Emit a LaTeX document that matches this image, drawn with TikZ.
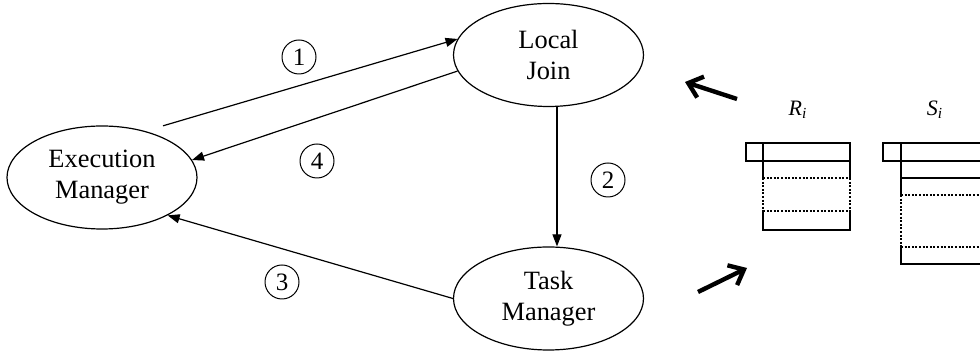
\documentclass[tikz,border=0pt]{standalone}
\usepackage{fontspec}
\setmainfont{Liberation Serif}
\usetikzlibrary{arrows.meta,shapes.geometric}
\begin{document}
\begin{tikzpicture}[x=0.5pt,y=-0.5pt,
  proc/.style={ellipse,draw,line width=0.6pt,minimum width=95pt,minimum height=51.5pt,inner sep=0pt,align=center,font=\fontsize{13.2}{15.5}\selectfont},
  num/.style={circle,draw,line width=0.5pt,minimum size=17pt,inner sep=0pt,font=\fontsize{12.5}{14}\selectfont},
  arr/.style={line width=0.6pt,-{Triangle[length=6pt,width=4.5pt]}},
  fat/.style={line width=2.2pt,-{Straight Barb[length=6.5pt,width=11pt,line width=2.2pt]}},
  tab/.style={line width=0.8pt},
  dtab/.style={line width=1pt,dash pattern=on 1pt off 0.8pt}]
\useasboundingbox (0,0) rectangle (980,351);
\clip (0,0) rectangle (980,351);
% processes
\node[proc] (EM) at (102,177.5) {Execution\\Manager};
\node[proc] (LJ) at (548.5,55) {Local\\Join};
\node[proc] (TM) at (548.5,298.5) {Task\\Manager};
% connectors
\draw[arr,shorten <=9.25pt] (EM.47.5) -- (LJ.170);
\draw[arr] (LJ.190) -- (EM.11);
\draw[arr] (TM.180) -- (EM.-30);
\draw[arr] ([xshift=4.25pt]LJ.south) -- ([xshift=4.25pt]TM.north);
% step numbers
\node[num] (n1) at (299,57) {1};
\node[num] (n2) at (608,180) {2};
\node[num] (n3) at (282,282) {3};
\node[num] (n4) at (317,161) {4};
% thick arrows
\coordinate (fa1s) at (737,99);
\coordinate (fa1e) at (685,82);
\coordinate (fa2s) at (698,292);
\coordinate (fa2e) at (747,268);
\draw[fat] (fa1s) -- (fa1e);
\draw[fat] (fa2s) -- (fa2e);
% labels
\node[font=\fontsize{11}{12}\selectfont] (Rl) at (798,110) {\textit{R}\textsubscript{\textit{i}}};
\node[font=\fontsize{11}{12}\selectfont] (Sl) at (935,110) {\textit{S}\textsubscript{\textit{i}}};
% R table
\draw[tab] (746,143) rectangle (763,161);
\draw[tab] (763,143) rectangle (850,161);
\draw[tab] (763,178) -- (763,161) -- (850,161) -- (850,178);
\draw[dtab] (763,178) -- (850,178);
\draw[dtab] (763,178) -- (763,211);
\draw[dtab] (850,178) -- (850,211);
\draw[dtab] (763,211) -- (850,211);
\draw[tab] (763,211) -- (763,230) -- (850,230) -- (850,211);
% S table
\draw[tab] (883,143) rectangle (901,161);
\draw[tab] (901,143) rectangle (990,161);
\draw[tab] (901,161) rectangle (990,178);
\draw[tab] (901,195) -- (901,178) -- (990,178);
\draw[dtab] (901,195) -- (990,195);
\draw[dtab] (901,195) -- (901,247);
\draw[dtab] (901,247) -- (990,247);
\draw[tab] (901,247) -- (901,264) -- (990,264);
\end{tikzpicture}
\end{document}
